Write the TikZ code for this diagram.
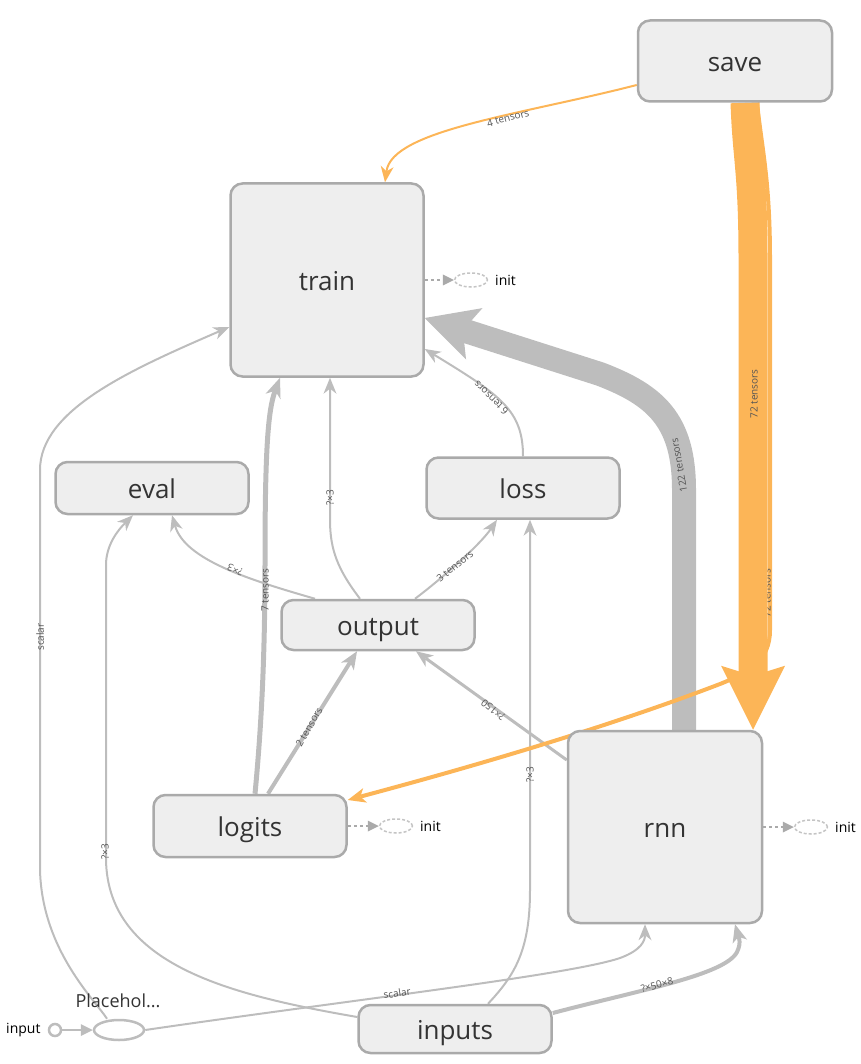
\documentclass[tikz,border=0pt]{standalone}
\usepackage{fontspec}
\setmainfont{Open Sans}
\usetikzlibrary{arrows.meta,shapes.geometric,backgrounds}
\definecolor{kastenfill}{HTML}{EEEEEE}
\definecolor{kastenrand}{HTML}{AAAAAA}
\definecolor{grau}{HTML}{BDBDBD}
\definecolor{initgrau}{HTML}{C4C4C4}
\definecolor{refor}{HTML}{FCB557}
\definecolor{beschr}{HTML}{555555}
\definecolor{knotentext}{HTML}{333333}
\begin{document}
\begin{tikzpicture}[x=1pt,y=-1pt,
	kasten/.style={draw=kastenrand, fill=kastenfill, line width=2.5pt, rounded corners=12pt,
		inner sep=0pt, text height=21pt, text depth=0pt, text=knotentext, font=\fontsize{26}{26}\selectfont},
	kante/.style={draw=grau, line width=2pt, -{Stealth[length=16pt,width=13pt,inset=5pt,line width=0pt]}},
	refkante/.style={draw=refor, line width=2pt, -{Stealth[length=16pt,width=13pt,inset=5pt,line width=0pt]}},
	elabel/.style={font=\fontsize{10}{10}\selectfont, text=beschr, inner sep=0pt},
	initknoten/.style={ellipse, draw=initgrau, line width=1.5pt, dash pattern=on 3pt off 2pt,
		minimum width=33pt, minimum height=14pt, inner sep=0pt},
	initpfeil/.style={draw=kastenrand, line width=2pt, dash pattern=on 3pt off 3pt,
		-{Triangle[length=11pt,width=11pt,line width=0pt]}},
]
	\useasboundingbox (0,0) rectangle (860,1064);
	% Knoten
	\node[kasten, minimum width=194pt, minimum height=81pt] (save) at (735,61) {save};
	\node[kasten, minimum width=193pt, minimum height=193pt] (train) at (327,280) {train};
	\node[kasten, minimum width=193pt, minimum height=52pt] (eval) at (152,488) {eval};
	\node[kasten, minimum width=193pt, minimum height=61pt] (loss) at (523,488) {loss};
	\node[kasten, minimum width=193pt, minimum height=50pt] (output) at (378,625) {output};
	\node[kasten, minimum width=193pt, minimum height=62pt] (logits) at (250,826) {logits};
	\node[kasten, minimum width=194pt, minimum height=192pt] (rnn) at (665,827) {rnn};
	\node[kasten, minimum width=193pt, minimum height=48pt] (inputs) at (455,1029) {inputs};

	% Placeholder
	\node[ellipse, draw=grau, line width=2.5pt, minimum width=50pt, minimum height=20pt, inner sep=0pt] (ph) at (119,1030) {};
	\node[font=\fontsize{18}{18}\selectfont, text=knotentext] (phtext) at (118,1001) {Placehol...};
	\node[circle, draw=grau, line width=2.5pt, minimum size=12pt, inner sep=0pt] (in) at (55,1030) {};
	\node[font=\fontsize{14}{14}\selectfont, anchor=east] (intext) at (44,1030) {input};
	\draw[draw=grau, line width=2.5pt, -{Triangle[length=12pt,width=12pt,line width=0pt]}] (in.east) -- (ph.west);

	% init
	\foreach \n/\x/\y in {train/471/280, logits/396/826, rnn/811/827} {
		\node[initknoten] (\n-init) at (\x,\y) {};
		\node[anchor=west, inner sep=0pt, font=\fontsize{14}{14}\selectfont] (\n-inittext) at (\x+24,\y) {init};
		\draw[initpfeil] (\n.east) -- (\n-init.west);
	}

	% Kanten
	\begin{scope}[on background layer]
		\draw[kante] ([xshift=-18pt]output.north) .. controls (338,570) and (330,550) .. (330,520) -- ([xshift=3pt]train.south);
		\draw[kante] ([xshift=-63pt]output.north) .. controls (250,580) and (185,560) .. ([xshift=20pt]eval.south);
		\draw[kante] ([xshift=37pt]output.north) .. controls (440,580) and (480,545) .. ([xshift=-26pt]loss.south);
		\draw[kante] (loss.north) .. controls (523,410) and (500,395) .. ([yshift=-69pt]train.east);
		\draw[kante, line width=5pt, -{Stealth[length=20pt,width=16pt,inset=6pt,line width=0pt]}]
			([xshift=5pt]logits.north) .. controls (262,720) and (265,650) .. (265,560)
			.. controls (265,450) and (268,410) .. ([xshift=-47pt]train.south);
		\draw[kante, line width=4pt, -{Stealth[length=18pt,width=15pt,inset=5pt,line width=0pt]}]
			([xshift=18pt]logits.north) -- ([xshift=-21pt]output.south);
		\draw[kante, line width=3pt, -{Stealth[length=17pt,width=14pt,inset=5pt,line width=0pt]}]
			([yshift=67pt]rnn.west) -- ([xshift=38pt]output.south);
		\draw[kante, line width=24pt, -{Stealth[length=52pt,width=54pt,inset=12pt,line width=0pt]}]
			([xshift=19pt]rnn.north) -- (684,490) .. controls (684,420) and (655,395) .. (600,374) -- ([yshift=-38pt]train.east);
		\draw[kante] ([xshift=-12pt]ph.north) .. controls (95,1000) and (42,950) .. (40,870) -- (40,470)
			.. controls (40,410) and (130,370) .. ([yshift=-47pt]train.west);
		\draw[kante] ([yshift=12pt]inputs.west) .. controls (230,995) and (108,965) .. (106,860) -- (106,565)
			.. controls (106,545) and (118,530) .. ([xshift=-19pt]eval.south);
		\draw[kante] ([xshift=33pt]inputs.north) .. controls (515,975) and (530,950) .. (530,890) -- ([xshift=7pt]loss.south);
		\draw[kante] (ph.east) .. controls (350,1000) and (570,975) .. (620,958)
			.. controls (642,950) and (645,940) .. ([xshift=-20pt]rnn.south);
		\draw[kante, line width=4pt, -{Stealth[length=18pt,width=15pt,inset=5pt,line width=0pt]}]
			([yshift=16pt]inputs.east) .. controls (640,990) and (725,975) .. (737,952)
			.. controls (742,942) and (738,935) .. ([xshift=70pt]rnn.south);
		% Referenzkanten
		\draw[refkante] ([yshift=-24pt]save.west) .. controls (520,115) and (392,130) .. ([xshift=58pt]train.north);
		\draw[refkante, line width=4pt, -{Stealth[length=18pt,width=15pt,inset=5pt,line width=0pt]}]
			([xshift=22pt]save.south) .. controls (762,150) and (770,180) .. (770,260) -- (770,630)
			.. controls (770,660) and (750,672) .. (720,684)
			.. controls (600,730) and (460,770) .. ([yshift=26pt]logits.east);
		\node[elabel, rotate=90] (l-save-logits) at (767,593) {72 tensors};
		\draw[refkante, line width=29pt, -{Stealth[length=64pt,width=64pt,inset=10pt,line width=0pt]}]
			([xshift=10pt]save.south) .. controls (747,160) and (753,170) .. (753,260) -- ([xshift=88pt]rnn.north);
	\end{scope}

	% Beschriftungen
	\node[elabel, rotate=15] (l-save-train) at (508,118) {4 tensors};
	\node[elabel, rotate=90] (l-save-rnn) at (754,394) {72 tensors};
	\node[elabel, rotate=100] (l-rnn-train) at (679,465) {122 tensors};
	\node[elabel, rotate=136] (l-loss-train) at (491,398) {6 tensors};
	\node[elabel, rotate=90] (l-output-train) at (330,498) {?×3};
	\node[elabel, rotate=90] (l-logits-train) at (265,590) {7 tensors};
	\node[elabel, rotate=158] (l-output-eval) at (235,570) {?×3};
	\node[elabel, rotate=38] (l-output-loss) at (455,566) {3 tensors};
	\node[elabel, rotate=60] (l-logits-output) at (309,727) {2 tensors};
	\node[elabel, rotate=141] (l-rnn-output) at (493,710) {?×150};
	\node[elabel, rotate=90] (l-ph-train) at (40,637) {scalar};
	\node[elabel, rotate=90] (l-inputs-eval) at (105,852) {?×3};
	\node[elabel, rotate=90] (l-inputs-loss) at (530,775) {?×3};
	\node[elabel, rotate=9] (l-ph-rnn) at (397,993) {scalar};
	\node[elabel, rotate=15] (l-inputs-rnn) at (657,985) {?×50×8};
\end{tikzpicture}
\end{document}
